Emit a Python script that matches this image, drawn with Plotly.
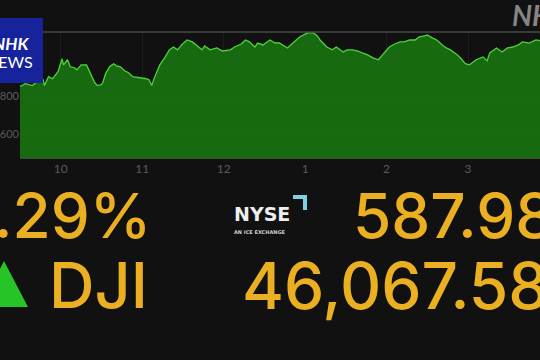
import plotly.graph_objects as go

# ---- data ----
times = ["09:30","09:34","09:39","09:43","09:47","09:48","09:51","09:54","09:58","10:01",
         "10:02","10:05","10:07","10:10","10:12","10:15","10:19","10:20","10:22","10:25",
         "10:27","10:30","10:31","10:33","10:36","10:39","10:41","10:44","10:47","10:50",
         "10:53","10:57","11:00","11:03","11:05","11:07","11:09","11:13","11:17","11:20",
         "11:23","11:26","11:29","11:33","11:37","11:40","11:44","11:46","11:50","11:55",
         "11:59","12:05","12:08","12:13","12:16","12:19","12:23","12:25","12:29","12:34",
         "12:38","12:41","12:47","12:51","12:56","13:00","13:02","13:06","13:09","13:11",
         "13:16","13:20","13:23","13:28","13:31","13:35","13:39","13:42","13:46","13:50",
         "13:54","13:57","14:02","14:06","14:10","14:13","14:17","14:21","14:24","14:28",
         "14:30","14:34","14:37","14:41","14:44","14:47","14:52","14:55","14:58","15:01",
         "15:04","15:06","15:11","15:14","15:16","15:21","15:25","15:29","15:33","15:37",
         "15:40","15:45","15:50","15:53","15:56"]
dji = [45851,45866,45856,45877,45887,45856,45903,45892,45929,45997,
       45965,45992,45955,45950,45939,45965,45965,45950,45913,45872,
       45856,45861,45872,45918,45955,45971,45960,45955,45934,45924,
       45903,45898,45898,45892,45887,45856,45898,45965,46007,46044,
       46059,46044,46070,46096,46086,46070,46044,46065,46044,46054,
       46038,46044,46059,46075,46096,46086,46059,46080,46070,46096,
       46080,46080,46054,46080,46112,46127,46133,46133,46117,46096,
       46059,46044,46059,46033,46044,46044,46038,46028,46018,46002,
       45992,46018,46059,46075,46086,46086,46096,46096,46112,46117,
       46122,46106,46096,46070,46054,46044,46018,45997,45971,45965,
       45981,45992,46007,45986,46028,46054,46033,46054,46059,46070,
       46086,46080,46096,46091,46090]
hour_ticks = ["10:00", "11:00", "12:00", "13:00", "14:00", "15:00"]
hour_labels = ["10", "11", "12", "1", "2", "3"]
y_ticks = [45600, 45800]
y_labels = ["45,600", "45,800"]
pct_change = "1.29%"
point_change = "587.98"
index_name = "DJI"
index_value = "46,067.58"

DAY = "2025-10-03 "
xs = [DAY + t for t in times]

W, H = 540, 360
L, R, T, B = 20, 540, 32, 158
def px(x):
    return (x - L) / (R - L)
def py(y):
    return (B - y) / (B - T)

BG = "#111111"
YEL = "#EBB022"
BIG = "Inter, sans-serif"

fig = go.Figure()
fig.add_trace(go.Scatter(
    x=xs, y=dji, mode="lines",
    line=dict(color="#4fd23c", width=1.3),
    fill="tozeroy", fillcolor="rgba(24,118,16,0.88)",
    hoverinfo="skip", showlegend=False))

fig.update_layout(
    width=W, height=H,
    margin=dict(l=L, r=W - R, t=T, b=H - B, pad=0),
    paper_bgcolor=BG, plot_bgcolor=BG,
    font=dict(family="Lato, sans-serif", color="#5e5e5e", size=11),
    xaxis=dict(type="date", range=[DAY + "09:30", DAY + "15:53"],
               tickvals=[DAY + t for t in hour_ticks], ticktext=hour_labels,
               showgrid=True, gridcolor="rgba(255,255,255,0.05)", gridwidth=1,
               zeroline=False, showline=True, linecolor="#3b4d36", linewidth=1,
               ticks="", automargin=False, tickfont=dict(size=12, color="#5a5a5a")),
    yaxis=dict(range=[45475, 46138], tickvals=y_ticks, ticktext=y_labels,
               showgrid=True, gridcolor="rgba(255,255,255,0.07)", gridwidth=1,
               zeroline=False, showline=False, ticks="", automargin=False,
               tickfont=dict(size=11, color="#5a5a5a")),
)

shapes = []
shapes.append(dict(type="line", xref="paper", yref="paper", x0=0, x1=1, y0=1, y1=1,
                   line=dict(color="#4a4a4a", width=1.5), layer="above"))
shapes.append(dict(type="rect", xref="paper", yref="paper",
                   x0=px(-5), x1=px(43), y0=py(83), y1=py(18),
                   fillcolor="#16239a", line=dict(width=0), layer="above"))
shapes.append(dict(type="path", xref="paper", yref="paper",
                   path=f"M {px(-20)} {py(307)} L {px(4)} {py(261)} L {px(28)} {py(307)} Z",
                   fillcolor="#27c427", line=dict(width=0), layer="above"))
shapes.append(dict(type="path", xref="paper", yref="paper",
                   path=(f"M {px(293)} {py(195)} L {px(307)} {py(195)} L {px(307)} {py(210)} "
                         f"L {px(303)} {py(210)} L {px(303)} {py(199)} L {px(293)} {py(199)} Z"),
                   fillcolor="#7fd0e2", line=dict(width=0), layer="above"))
fig.update_layout(shapes=shapes)

ann = []
def text(t, x, y, size, color, xanchor="left", family="Lato, sans-serif", weight=None):
    f = dict(size=size, color=color, family=family)
    if weight:
        f["weight"] = weight
    ann.append(dict(text=t, x=px(x), y=py(y), xref="paper", yref="paper",
                    xanchor=xanchor, yanchor="middle", showarrow=False, font=f))

text("<b><i>NHK</i></b>", 31, 43, 17, "white", xanchor="right")
text("NEWS", 35, 61, 16, "white", xanchor="right")
text("<b><i>NHK</i></b>", 510, 15, 28, "#858585")
text(pct_change, 153, 215, 62, YEL, xanchor="right", family=BIG, weight=500)
text(point_change, 556, 215, 62, YEL, xanchor="right", family=BIG, weight=500)
text(index_name, 47, 285, 63, YEL, family=BIG, weight=500)
text(index_value, 551, 285, 64, YEL, xanchor="right", family=BIG, weight=500)
text("NYSE", 262, 214, 19, "#eeeeee", xanchor="center", family="DejaVu Sans, sans-serif", weight=600)
text("AN ICE EXCHANGE", 260, 232, 5, "#cccccc", xanchor="center", family="DejaVu Sans, sans-serif", weight=700)
fig.update_layout(annotations=ann)

fig.write_html("out.html")
